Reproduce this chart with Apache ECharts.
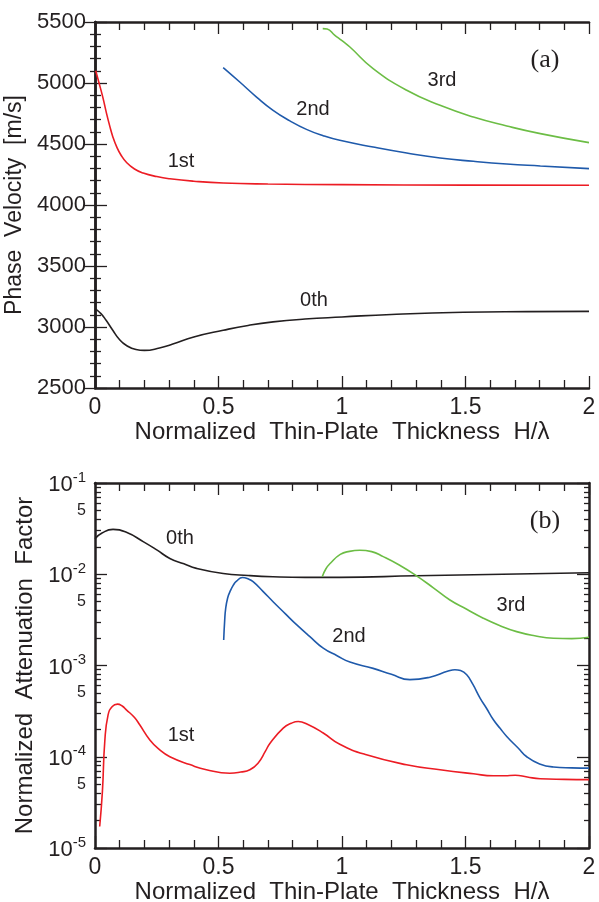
<!DOCTYPE html>
<html><head><meta charset="utf-8">
<script src="https://cdn.jsdelivr.net/npm/echarts@6/dist/echarts.min.js"></script>
<style>html,body{margin:0;padding:0;background:#fff}#c{width:599px;height:902px}</style>
</head><body><div id="c"></div>
<script>
// ---------- (a) Phase velocity [m/s] vs H/lambda ----------
const hA0 = [0, 0.024, 0.045, 0.072, 0.099, 0.126, 0.166, 0.2, 0.261, 0.315, 0.4, 0.519, 0.62, 0.721, 0.85, 1.0, 1.2, 1.491, 1.75, 2.0];
const vA0 = [3151, 3110, 3055, 2973, 2897, 2850, 2815, 2808, 2828, 2860, 2918, 2973, 3013, 3042, 3065, 3082, 3103, 3121, 3126, 3128];
const hA1 = [0.003, 0.015, 0.032, 0.045, 0.059, 0.072, 0.087, 0.105, 0.127, 0.16, 0.195, 0.25, 0.303, 0.4, 0.519, 0.7, 1.0, 1.5, 2.0];
const vA1 = [5100, 5010, 4880, 4765, 4653, 4560, 4480, 4410, 4350, 4295, 4262, 4233, 4215, 4195, 4180, 4172, 4167, 4163, 4162];
const hA2 = [0.519, 0.586, 0.654, 0.721, 0.789, 0.856, 0.924, 0.991, 1.126, 1.262, 1.397, 1.532, 1.667, 1.803, 2.0];
const vA2 = [5126, 5008, 4885, 4776, 4690, 4620, 4568, 4530, 4475, 4426, 4385, 4358, 4336, 4320, 4298];
const hA3 = [0.922, 0.94, 0.97, 1.0, 1.032, 1.126, 1.262, 1.397, 1.532, 1.667, 1.803, 2.0];
const vA3 = [5446, 5442, 5393, 5347, 5295, 5118, 4940, 4817, 4721, 4648, 4585, 4511];

// ---------- (b) Normalized attenuation factor vs H/lambda ----------
const hB0 = [0, 0.03, 0.073, 0.127, 0.195, 0.25, 0.303, 0.36, 0.411, 0.519, 0.62, 0.721, 0.85, 0.991, 1.302, 1.65, 2.0];
const aB0 = [0.0245, 0.0285, 0.0310, 0.0288, 0.0228, 0.0185, 0.0149, 0.0130, 0.0116, 0.0102, 0.0097, 0.0094, 0.00925, 0.00925, 0.00964, 0.0100, 0.0104];
const hB1 = [0.019, 0.030, 0.0396, 0.053, 0.070, 0.091, 0.11, 0.127, 0.16, 0.181, 0.222, 0.262, 0.303, 0.384, 0.451, 0.546, 0.59, 0.627, 0.66, 0.69, 0.708, 0.762, 0.795, 0.823, 0.86, 0.924, 0.991, 1.099, 1.261, 1.397, 1.532, 1.613, 1.66, 1.701, 1.75, 1.802, 1.9, 2.0];
const aB1 = [1.72e-5, 4.17e-5, 1.47e-4, 2.88e-4, 3.55e-4, 3.77e-4, 3.6e-4, 3.27e-4, 2.69e-4, 2.24e-4, 1.53e-4, 1.19e-4, 1.0e-4, 8.2e-5, 7.2e-5, 6.6e-5, 6.8e-5, 7.2e-5, 8.5e-5, 1.15e-4, 1.4e-4, 2.06e-4, 2.33e-4, 2.43e-4, 2.27e-4, 1.82e-4, 1.37e-4, 1.05e-4, 8.17e-5, 7.2e-5, 6.5e-5, 6.18e-5, 6.2e-5, 6.28e-5, 6.0e-5, 5.74e-5, 5.65e-5, 5.62e-5];
const hB2 = [0.521, 0.525, 0.529, 0.537, 0.546, 0.56, 0.573, 0.597, 0.62, 0.64, 0.68, 0.721, 0.77, 0.816, 0.87, 0.924, 0.98, 1.032, 1.126, 1.2, 1.275, 1.356, 1.43, 1.457, 1.48, 1.505, 1.53, 1.559, 1.585, 1.613, 1.64, 1.667, 1.714, 1.748, 1.8, 1.856, 1.93, 2.0];
const aB2 = [0.0019, 0.0031, 0.0042, 0.0055, 0.0064, 0.0076, 0.0084, 0.0092, 0.0089, 0.0083, 0.0065, 0.0050, 0.0037, 0.0028, 0.00207, 0.00155, 0.00128, 0.00109, 0.00093, 0.00080, 0.000700, 0.000745, 0.00087, 0.000900, 0.00088, 0.00079, 0.00062, 0.00044, 0.00034, 0.000254, 0.000205, 0.000167, 0.000124, 0.000100, 0.0000835, 0.0000772, 0.0000755, 0.000075];
const hB3 = [0.92, 0.935, 0.953, 0.993, 1.03, 1.072, 1.12, 1.167, 1.23, 1.302, 1.37, 1.437, 1.505, 1.572, 1.64, 1.707, 1.78, 1.856, 1.93, 2.0];
const aB3 = [0.0094, 0.0115, 0.0132, 0.0165, 0.0178, 0.0183, 0.0177, 0.0156, 0.0127, 0.0096, 0.0071, 0.00522, 0.00413, 0.0033, 0.00273, 0.00235, 0.00212, 0.00199, 0.00197, 0.00204];

// tick labels
const xTicks = ['0', '0.5', '1', '1.5', '2'];
const yTicksA = ['2500', '3000', '3500', '4000', '4500', '5000', '5500'];
const decadeExps = [-5, -4, -3, -2, -1];
const minorMults = [2, 3, 4, 5, 6, 7, 8, 9];
const halfMult = 5;

const modeNames = ['0th', '1st', '2nd', '3rd'];
const colors = ['#231f20', '#ec1c24', '#1f5aab', '#6cbd45'];

const FONT = '"Liberation Sans", Arial, Helvetica, sans-serif';
const TXT = '#231f20';

const zip = (xs, ys) => xs.map((x, i) => [x, ys[i]]);
const zipLog = (xs, ys) => xs.map((x, i) => [x, Math.log10(ys[i])]);

const minorVals = [];
decadeExps.slice(0, 4).forEach(e => minorMults.forEach(m => minorVals.push(e + Math.log10(m))));
const labelValsB = decadeExps.concat(decadeExps.slice(0, 4).map(e => e + Math.log10(halfMult)));

const axisLine = { show: true, lineStyle: { color: TXT, width: 2.5 } };
const tickStyle = { color: TXT, width: 1.3 };

function xAxisDef(grid, pos, withLabels) {
  return {
    type: 'value', gridIndex: grid, position: pos, min: 0, max: 2, interval: 0.5,
    axisLine: axisLine, splitLine: { show: false },
    axisTick: { show: true, inside: true, length: 12, lineStyle: tickStyle },
    minorTick: { show: true, splitNumber: 5, length: 8, lineStyle: tickStyle },
    axisLabel: withLabels ? { show: true, margin: 8, fontSize: 23, color: TXT, fontFamily: FONT,
      formatter: v => xTicks[Math.round(v / 0.5)] } : { show: false },
    name: withLabels ? 'Normalized  Thin-Plate  Thickness  H/\u03bb' : '',
    nameLocation: 'middle', nameGap: 31,
    nameTextStyle: { fontSize: 24, color: TXT, fontFamily: FONT }
  };
}

const option = {
  animation: false,
  backgroundColor: '#fff',
  textStyle: { fontFamily: FONT },
  grid: [
    { left: 95, top: 22, width: 494, height: 366, outerBoundsMode: 'none' },
    { left: 95, top: 483, width: 494, height: 365, outerBoundsMode: 'none' }
  ],
  xAxis: [
    xAxisDef(0, 'bottom', true), xAxisDef(0, 'top', false),
    xAxisDef(1, 'bottom', true), xAxisDef(1, 'top', false)
  ],
  yAxis: [
    { type: 'value', gridIndex: 0, position: 'left', min: 2500, max: 5500, interval: 500,
      axisLine: axisLine, splitLine: { show: false },
      axisTick: { show: true, inside: true, length: 12, lineStyle: tickStyle },
      minorTick: { show: true, splitNumber: 5, length: 6, lineStyle: tickStyle },
      axisLabel: { margin: 9, fontSize: 22, color: TXT, fontFamily: FONT,
        formatter: v => yTicksA[Math.round((v - 2500) / 500)] },
      name: 'Phase  Velocity  [m/s]', nameLocation: 'middle', nameGap: 47,
      nameTextStyle: { fontSize: 23, color: TXT, fontFamily: FONT } },
    { type: 'value', gridIndex: 0, position: 'right', min: 2500, max: 5500, interval: 500,
      axisLine: axisLine, splitLine: { show: false },
      axisTick: { show: true, inside: true, length: 12, lineStyle: tickStyle },
      minorTick: { show: true, splitNumber: 5, length: 5, lineStyle: tickStyle },
      axisLabel: { show: false } },
    { type: 'value', gridIndex: 1, position: 'left', min: -5, max: -1, interval: 1,
      axisLine: axisLine, splitLine: { show: false },
      axisTick: { show: true, inside: true, length: 12, lineStyle: tickStyle },
      axisLabel: { margin: 9, color: TXT, fontFamily: FONT, customValues: labelValsB,
        formatter: v => {
          const r = Math.round(v);
          if (Math.abs(v - r) < 1e-6) return '{b|10}{s|' + r + '}';
          return '{m|' + halfMult + '}';
        },
        rich: {
          b: { fontSize: 22, lineHeight: 26, verticalAlign: 'bottom', color: TXT, fontFamily: FONT },
          s: { fontSize: 15, lineHeight: 15, verticalAlign: 'top', color: TXT, fontFamily: FONT },
          m: { fontSize: 16, color: TXT, fontFamily: FONT }
        } },
      name: 'Normalized  Attenuation  Factor', nameLocation: 'middle', nameGap: 41,
      nameTextStyle: { fontSize: 24, color: TXT, fontFamily: FONT } },
    { type: 'value', gridIndex: 1, position: 'left', min: -5, max: -1,
      axisLine: { show: false }, splitLine: { show: false }, axisLabel: { show: false },
      axisTick: { show: true, inside: true, length: 6, customValues: minorVals, lineStyle: tickStyle } },
    { type: 'value', gridIndex: 1, position: 'right', min: -5, max: -1, interval: 1,
      axisLine: axisLine, splitLine: { show: false }, axisLabel: { show: false },
      axisTick: { show: true, inside: true, length: 12, lineStyle: tickStyle } },
    { type: 'value', gridIndex: 1, position: 'right', min: -5, max: -1,
      axisLine: { show: false }, splitLine: { show: false }, axisLabel: { show: false },
      axisTick: { show: true, inside: true, length: 5, customValues: minorVals, lineStyle: tickStyle } }
  ],
  series: [],
  graphic: []
};

function addSeries(name, data, ci, xi, yi) {
  option.series.push({
    type: 'line', name: name, xAxisIndex: xi, yAxisIndex: yi, data: data,
    showSymbol: false, symbol: 'none', smooth: 0.5, clip: true,
    lineStyle: { color: colors[ci], width: 1.6 }
  });
}
addSeries(modeNames[0], zip(hA0, vA0), 0, 0, 0);
addSeries(modeNames[1], zip(hA1, vA1), 1, 0, 0);
addSeries(modeNames[2], zip(hA2, vA2), 2, 0, 0);
addSeries(modeNames[3], zip(hA3, vA3), 3, 0, 0);
addSeries(modeNames[0], zipLog(hB0, aB0), 0, 2, 2);
addSeries(modeNames[1], zipLog(hB1, aB1), 1, 2, 2);
addSeries(modeNames[2], zipLog(hB2, aB2), 2, 2, 2);
addSeries(modeNames[3], zipLog(hB3, aB3), 3, 2, 2);

function addText(text, x, y, size, family) {
  option.graphic.push({
    type: 'text', x: x, y: y, z: 100,
    style: { text: text, fill: TXT, fontSize: size, fontFamily: family || FONT,
      align: 'center', verticalAlign: 'middle', textAlign: 'center', textVerticalAlign: 'middle' }
  });
}
addText('(a)', 545, 60, 26, '"Liberation Serif", "Times New Roman", serif');
addText(modeNames[3], 442, 80, 20);
addText(modeNames[2], 313, 109, 20);
addText(modeNames[1], 181, 161, 20);
addText(modeNames[0], 314, 300, 20);
addText('(b)', 545, 521, 26, '"Liberation Serif", "Times New Roman", serif');
addText(modeNames[0], 180, 538, 20);
addText(modeNames[3], 511, 605, 20);
addText(modeNames[2], 349, 636, 20);
addText(modeNames[1], 181, 735, 20);

const chart = echarts.init(document.getElementById('c'), null, { renderer: 'canvas' });
chart.setOption(option);
</script></body></html>
